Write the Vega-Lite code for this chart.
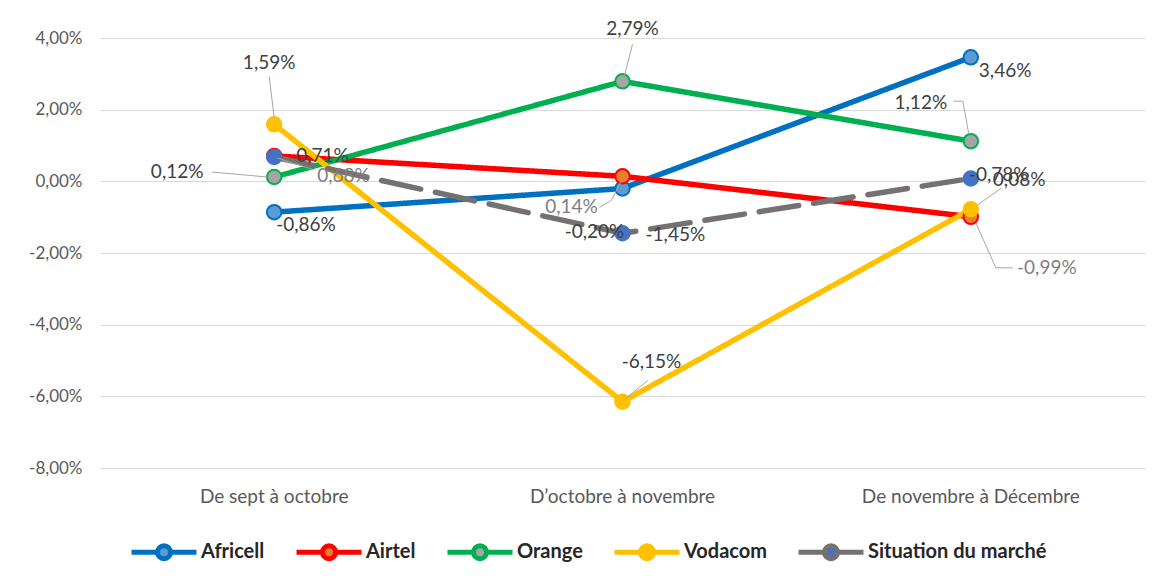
{
  "$schema": "https://vega.github.io/schema/vega-lite/v6.json",
  "width": 1045,
  "height": 430,
  "autosize": {"type": "none"},
  "padding": {"left": 100, "top": 38, "right": 17, "bottom": 115},
  "background": "white",
  "config": {
    "view": {"stroke": null},
    "locale": {"number": {"decimal": ",", "thousands": " ", "grouping": [3], "currency": ["", " €"], "minus": "-"}},
    "font": "Lato"
  },
  "data": {
    "values": [
      {"series": "Africell", "period": "De sept à octobre", "value": -0.0086},
      {"series": "Africell", "period": "D’octobre à novembre", "value": -0.0020},
      {"series": "Africell", "period": "De novembre à Décembre", "value": 0.0346},
      {"series": "Airtel", "period": "De sept à octobre", "value": 0.0071},
      {"series": "Airtel", "period": "D’octobre à novembre", "value": 0.0014},
      {"series": "Airtel", "period": "De novembre à Décembre", "value": -0.0099},
      {"series": "Orange", "period": "De sept à octobre", "value": 0.0012},
      {"series": "Orange", "period": "D’octobre à novembre", "value": 0.0279},
      {"series": "Orange", "period": "De novembre à Décembre", "value": 0.0112},
      {"series": "Vodacom", "period": "De sept à octobre", "value": 0.0159},
      {"series": "Vodacom", "period": "D’octobre à novembre", "value": -0.0615},
      {"series": "Vodacom", "period": "De novembre à Décembre", "value": -0.0078},
      {"series": "Situation du marché", "period": "De sept à octobre", "value": 0.0068},
      {"series": "Situation du marché", "period": "D’octobre à novembre", "value": -0.0145},
      {"series": "Situation du marché", "period": "De novembre à Décembre", "value": 0.0008}
    ]
  },
  "encoding": {
    "x": {
      "field": "period", "type": "nominal", "title": null,
      "sort": ["De sept à octobre", "D’octobre à novembre", "De novembre à Décembre"],
      "axis": {"labelAngle": 0, "ticks": false, "domain": false, "grid": false, "labelPadding": 19, "labelFontSize": 19, "labelColor": "#595959", "labelFont": "Lato", "labelLimit": 400}
    },
    "y": {
      "field": "value", "type": "quantitative", "title": null,
      "scale": {"domain": [-0.08, 0.04], "nice": false, "zero": false},
      "axis": {"values": [-0.08, -0.06, -0.04, -0.02, 0, 0.02, 0.04], "format": ".2%", "ticks": false, "domain": false, "gridColor": "#d9d9d9", "gridWidth": 1, "labelPadding": 18, "labelFontSize": 17, "labelColor": "#595959", "labelFont": "Lato"}
    }
  },
  "layer": [
    {
      "mark": {"type": "line", "strokeWidth": 5.5, "strokeCap": "round", "strokeJoin": "round"},
      "encoding": {
        "color": {
          "field": "series", "type": "nominal",
          "scale": {"domain": ["Africell", "Airtel", "Orange", "Vodacom", "Situation du marché"], "range": ["#0070C0", "#FF0000", "#00B050", "#FFC000", "#767171"]},
          "legend": null
        },
        "strokeDash": {
          "field": "series", "type": "nominal",
          "scale": {"domain": ["Africell", "Airtel", "Orange", "Vodacom", "Situation du marché"], "range": [[1, 0], [1, 0], [1, 0], [1, 0], [40, 15]]},
          "legend": null
        }
      }
    },
    {
      "mark": {"type": "point", "filled": true, "size": 210, "strokeWidth": 2, "opacity": 1},
      "encoding": {
        "fill": {
          "field": "series", "type": "nominal",
          "sort": ["Africell", "Airtel", "Orange", "Vodacom", "Situation du marché"],
          "scale": {"range": ["#5B9BD5", "#ED7D31", "#A5A5A5", "#FFC000", "#4472C4"]},
          "legend": {
            "orient": "none", "legendX": 29, "legendY": 479, "direction": "horizontal", "title": null,
            "symbolType": "M-1,0H-0.2M0.2,0H1M-0.2,0A0.2,0.2 0 1,0 0.2,0A0.2,0.2 0 1,0 -0.2,0Z", "symbolSize": 4225, "symbolOpacity": 1, "symbolStrokeWidth": 5,
            "labelFontSize": 20, "labelFontWeight": "bold", "labelFont": "Lato", "labelColor": "#262626", "labelOffset": 2, "columnPadding": 21, "labelLimit": 400,
            "encode": {"symbols": {"update": {"fill": {"scale": "fill", "field": "value"}, "stroke": {"scale": "color", "field": "value"}, "strokeWidth": {"value": 5}, "opacity": {"value": 1}}}}
          }
        },
        "stroke": {
          "field": "series", "type": "nominal",
          "sort": ["Africell", "Airtel", "Orange", "Vodacom", "Situation du marché"],
          "scale": {"range": ["#0070C0", "#FF0000", "#00B050", "#FFC000", "#4472C4"]},
          "legend": null
        }
      }
    },
    {"transform": [{"filter": "datum.series=='Vodacom' && datum.period=='De sept à octobre'"}], "mark": {"type": "rule", "color": "#a6a6a6", "strokeWidth": 1, "xOffset": -5, "yOffset": -48, "x2Offset": 0, "y2Offset": -7}, "encoding": {"x2": {"field": "period"}, "y2": {"field": "value"}}},
    {"transform": [{"filter": "datum.series=='Orange' && datum.period=='De sept à octobre'"}], "mark": {"type": "rule", "color": "#a6a6a6", "strokeWidth": 1, "xOffset": -62, "yOffset": -5, "x2Offset": -7, "y2Offset": 0}, "encoding": {"x2": {"field": "period"}, "y2": {"field": "value"}}},
    {"transform": [{"filter": "datum.series=='Situation du marché' && datum.period=='De sept à octobre'"}], "mark": {"type": "rule", "color": "#a6a6a6", "strokeWidth": 1, "xOffset": 3, "yOffset": 1, "x2Offset": 40, "y2Offset": 13}, "encoding": {"x2": {"field": "period"}, "y2": {"field": "value"}}},
    {"transform": [{"filter": "datum.series=='Orange' && datum.period=='D’octobre à novembre'"}], "mark": {"type": "rule", "color": "#a6a6a6", "strokeWidth": 1, "xOffset": 10, "yOffset": -37, "x2Offset": 2, "y2Offset": -6}, "encoding": {"x2": {"field": "period"}, "y2": {"field": "value"}}},
    {"transform": [{"filter": "datum.series=='Vodacom' && datum.period=='D’octobre à novembre'"}], "mark": {"type": "rule", "color": "#a6a6a6", "strokeWidth": 1, "xOffset": 25, "yOffset": -21, "x2Offset": 3, "y2Offset": -3}, "encoding": {"x2": {"field": "period"}, "y2": {"field": "value"}}},
    {"transform": [{"filter": "datum.series=='Airtel' && datum.period=='D’octobre à novembre'"}], "mark": {"type": "rule", "color": "#a6a6a6", "strokeWidth": 1, "xOffset": -23, "yOffset": 31, "x2Offset": -11, "y2Offset": 24}, "encoding": {"x2": {"field": "period"}, "y2": {"field": "value"}}},
    {"transform": [{"filter": "datum.series=='Airtel' && datum.period=='D’octobre à novembre'"}], "mark": {"type": "rule", "color": "#a6a6a6", "strokeWidth": 1, "xOffset": -11, "yOffset": 24, "x2Offset": -1, "y2Offset": 4}, "encoding": {"x2": {"field": "period"}, "y2": {"field": "value"}}},
    {"transform": [{"filter": "datum.series=='Orange' && datum.period=='De novembre à Décembre'"}], "mark": {"type": "rule", "color": "#a6a6a6", "strokeWidth": 1, "xOffset": -17, "yOffset": -40, "x2Offset": -8, "y2Offset": -40}, "encoding": {"x2": {"field": "period"}, "y2": {"field": "value"}}},
    {"transform": [{"filter": "datum.series=='Orange' && datum.period=='De novembre à Décembre'"}], "mark": {"type": "rule", "color": "#a6a6a6", "strokeWidth": 1, "xOffset": -8, "yOffset": -40, "x2Offset": -2, "y2Offset": -7}, "encoding": {"x2": {"field": "period"}, "y2": {"field": "value"}}},
    {"transform": [{"filter": "datum.series=='Airtel' && datum.period=='De novembre à Décembre'"}], "mark": {"type": "rule", "color": "#a6a6a6", "strokeWidth": 1, "xOffset": 42, "yOffset": 51, "x2Offset": 25, "y2Offset": 51}, "encoding": {"x2": {"field": "period"}, "y2": {"field": "value"}}},
    {"transform": [{"filter": "datum.series=='Airtel' && datum.period=='De novembre à Décembre'"}], "mark": {"type": "rule", "color": "#a6a6a6", "strokeWidth": 1, "xOffset": 25, "yOffset": 51, "x2Offset": 5, "y2Offset": 6}, "encoding": {"x2": {"field": "period"}, "y2": {"field": "value"}}},
    {"transform": [{"filter": "datum.series=='Situation du marché' && datum.period=='De novembre à Décembre'"}], "mark": {"type": "rule", "color": "#a6a6a6", "strokeWidth": 1, "xOffset": 30, "yOffset": 10, "x2Offset": 6, "y2Offset": 27}, "encoding": {"x2": {"field": "period"}, "y2": {"field": "value"}}},
    {"transform": [{"filter": "datum.series=='Africell' && datum.period=='De sept à octobre'"}], "mark": {"type": "text", "align": "left", "baseline": "middle", "dx": 2, "dy": 13, "fontSize": 19, "font": "Lato", "color": "#404040"}, "encoding": {"text": {"field": "value", "format": ".2%"}}},
    {"transform": [{"filter": "datum.series=='Africell' && datum.period=='D’octobre à novembre'"}], "mark": {"type": "text", "align": "center", "baseline": "middle", "dx": -28, "dy": 43, "fontSize": 19, "font": "Lato", "color": "#404040"}, "encoding": {"text": {"field": "value", "format": ".2%"}}},
    {"transform": [{"filter": "datum.series=='Africell' && datum.period=='De novembre à Décembre'"}], "mark": {"type": "text", "align": "left", "baseline": "middle", "dx": 8, "dy": 14, "fontSize": 19, "font": "Lato", "color": "#404040"}, "encoding": {"text": {"field": "value", "format": ".2%"}}},
    {"transform": [{"filter": "datum.series=='Airtel' && datum.period=='De sept à octobre'"}], "mark": {"type": "text", "align": "left", "baseline": "middle", "dx": 22, "dy": 0, "fontSize": 19, "font": "Lato", "color": "#404040"}, "encoding": {"text": {"field": "value", "format": ".2%"}}},
    {"transform": [{"filter": "datum.series=='Airtel' && datum.period=='D’octobre à novembre'"}], "mark": {"type": "text", "align": "center", "baseline": "middle", "dx": -51, "dy": 31, "fontSize": 19, "font": "Lato", "color": "#7f7f7f"}, "encoding": {"text": {"field": "value", "format": ".2%"}}},
    {"transform": [{"filter": "datum.series=='Airtel' && datum.period=='De novembre à Décembre'"}], "mark": {"type": "text", "align": "center", "baseline": "middle", "dx": 76, "dy": 51, "fontSize": 19, "font": "Lato", "color": "#7f7f7f"}, "encoding": {"text": {"field": "value", "format": ".2%"}}},
    {"transform": [{"filter": "datum.series=='Orange' && datum.period=='De sept à octobre'"}], "mark": {"type": "text", "align": "center", "baseline": "middle", "dx": -97, "dy": -5, "fontSize": 19, "font": "Lato", "color": "#404040"}, "encoding": {"text": {"field": "value", "format": ".2%"}}},
    {"transform": [{"filter": "datum.series=='Orange' && datum.period=='D’octobre à novembre'"}], "mark": {"type": "text", "align": "center", "baseline": "middle", "dx": 10, "dy": -52, "fontSize": 19, "font": "Lato", "color": "#404040"}, "encoding": {"text": {"field": "value", "format": ".2%"}}},
    {"transform": [{"filter": "datum.series=='Orange' && datum.period=='De novembre à Décembre'"}], "mark": {"type": "text", "align": "center", "baseline": "middle", "dx": -50, "dy": -38, "fontSize": 19, "font": "Lato", "color": "#404040"}, "encoding": {"text": {"field": "value", "format": ".2%"}}},
    {"transform": [{"filter": "datum.series=='Vodacom' && datum.period=='De sept à octobre'"}], "mark": {"type": "text", "align": "center", "baseline": "middle", "dx": -5, "dy": -61, "fontSize": 19, "font": "Lato", "color": "#404040"}, "encoding": {"text": {"field": "value", "format": ".2%"}}},
    {"transform": [{"filter": "datum.series=='Vodacom' && datum.period=='D’octobre à novembre'"}], "mark": {"type": "text", "align": "center", "baseline": "middle", "dx": 29, "dy": -40, "fontSize": 19, "font": "Lato", "color": "#404040"}, "encoding": {"text": {"field": "value", "format": ".2%"}}},
    {"transform": [{"filter": "datum.series=='Vodacom' && datum.period=='De novembre à Décembre'"}], "mark": {"type": "text", "align": "left", "baseline": "middle", "dx": -2, "dy": -34, "fontSize": 19, "font": "Lato", "color": "#404040"}, "encoding": {"text": {"field": "value", "format": ".2%"}}},
    {"transform": [{"filter": "datum.series=='Situation du marché' && datum.period=='De sept à octobre'"}], "mark": {"type": "text", "align": "left", "baseline": "middle", "dx": 43, "dy": 19, "fontSize": 19, "font": "Lato", "color": "#7f7f7f"}, "encoding": {"text": {"field": "value", "format": ".2%"}}},
    {"transform": [{"filter": "datum.series=='Situation du marché' && datum.period=='D’octobre à novembre'"}], "mark": {"type": "text", "align": "left", "baseline": "middle", "dx": 23, "dy": 2, "fontSize": 19, "font": "Lato", "color": "#404040"}, "encoding": {"text": {"field": "value", "format": ".2%"}}},
    {"transform": [{"filter": "datum.series=='Situation du marché' && datum.period=='De novembre à Décembre'"}], "mark": {"type": "text", "align": "left", "baseline": "middle", "dx": 22, "dy": 2, "fontSize": 19, "font": "Lato", "color": "#404040"}, "encoding": {"text": {"field": "value", "format": ".2%"}}}
  ]
}
